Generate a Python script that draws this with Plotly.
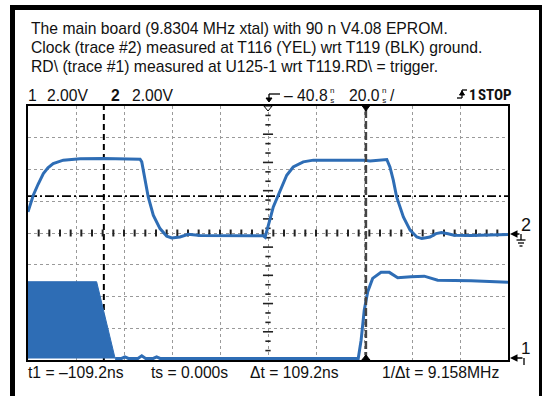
import plotly.graph_objects as go

# ---------------- data (time in ns, voltage in V) ----------------
# Channel 2: clock (ground at screen centre)
clock_t = [-140.8, -138.6, -136.6, -134.4, -132.5, -130.3, -126.1, -119.1, -109.5, -102.5, -94.1,
           -93.4, -92.0, -90.7, -88.6, -85.8, -83.0, -80.9, -77.5, -74.0, -69.1, -56.6, -42.8,
           -42.0, -40.7, -39.5, -38.6, -35.8, -33.0, -30.3, -26.1, -21.9, -10.8, -1.1, 1.7,
           5.9, 8.7, 10.0, 11.4, 12.8, 15.6, 18.4, 21.2, 23.3, 26.7, 29.2, 31.5, 34.2, 36.7,
           43.8, 51.7, 59.2]
clock_v = [1.33, 2.38, 3.07, 3.75, 4.11, 4.38, 4.59, 4.67, 4.69, 4.68, 4.65,
           4.48, 3.33, 2.27, 1.12, 0.28, -0.20, -0.31, -0.25, -0.08, -0.16, -0.15, -0.17,
           -0.26, 0.55, 1.12, 1.64, 2.70, 3.64, 4.16, 4.48, 4.59, 4.59, 4.59, 4.54,
           4.60, 4.63, 4.16, 3.33, 2.27, 1.01, 0.18, -0.25, -0.35, -0.25, -0.04, 0.03, -0.05, -0.14,
           -0.15, -0.13, -0.09]

# Channel 1: RD\ (ground near bottom of screen)
rd_burst_t = [-140.8, -140.8, -112.2, -104.5]
rd_burst_v = [0.0, 4.83, 4.83, 0.0]
rd_t = [-104.5, -101.8, -100.4, -99.0, -95.0, -93.4, -91.8, -88.6, -87.2, -85.8, -3.2, -2.0,
        -0.7, 0.75, 2.8, 6.3, 9.75, 13.25, 18.8, 24.3, 29.9, 43.8, 59.2]
rd_v = [0.0, 0.0, 0.1, 0.0, 0.0, 0.16, 0.0, 0.0, 0.1, 0.0, 0.0, 1.15,
        3.04, 4.20, 5.04, 5.42, 5.42, 5.08, 5.14, 5.18, 4.93, 4.89, 4.79]
rd_offset = -7.9          # on-screen ground position of channel 1 (V, on the 2 V/div scale)

# scope settings / readouts
time_center = -40.8       # ns
time_per_div = 20.0       # ns/div
volts_per_div = 2.0
trigger_level = 2.32      # V
cursor_t1 = -109.2        # ns
cursor_t2 = 0.0           # ns

title_lines = ["The main board (9.8304 MHz xtal) with 90 n V4.08 EPROM.",
               "Clock (trace #2) measured at T116 (YEL) wrt T119 (BLK) ground.",
               "RD\\ (trace #1) measured at U125-1 wrt T119.RD\\ = trigger."]
readouts = ["t1 = \u2013109.2ns", "ts = 0.000s", "\u0394t = 109.2ns", "1/\u0394t = 9.158MHz"]

# ---------------- figure ----------------
BLUE = "#2e6db5"
FONT = "Liberation Sans, Arial, sans-serif"
t_left = time_center - 5 * time_per_div
t_right = time_center + 5 * time_per_div
v_lo, v_hi = -4 * volts_per_div, 4 * volts_per_div

W, H = 542, 396
L, R, T, B = 28, 34, 106, 36
PW, PH = W - L - R, H - T - B


def px(p):
    return (p - L) / PW


def py(p):
    return (H - B - p) / PH


fig = go.Figure()
fig.add_trace(go.Scatter(x=rd_burst_t, y=[v + rd_offset for v in rd_burst_v], mode="lines",
                         fill="toself", fillcolor=BLUE, line=dict(color=BLUE, width=1),
                         hoverinfo="skip"))
fig.add_trace(go.Scatter(x=rd_t, y=[v + rd_offset for v in rd_v], mode="lines",
                         line=dict(color=BLUE, width=3), hoverinfo="skip"))
fig.add_trace(go.Scatter(x=clock_t, y=clock_v, mode="lines",
                         line=dict(color=BLUE, width=3), hoverinfo="skip"))

shapes = []
# centre-axis minor ticks (horizontal axis)
for k in range(1, 45):
    xt = t_left + k * (t_right - t_left) / 45
    shapes.append(dict(type="line", xref="x", yref="y", x0=xt, x1=xt, y0=-0.22, y1=0.22,
                       line=dict(color="#222", width=2), layer="between"))
# centre-axis minor ticks (vertical axis)
for k in range(1, 27):
    yt = v_lo + k * (v_hi - v_lo) / 27
    hw = 2.1 if k % 3 == 0 else 1.1
    shapes.append(dict(type="line", xref="x", yref="y", x0=time_center - hw, x1=time_center + hw,
                       y0=yt, y1=yt, line=dict(color="#222", width=1.6), layer="between"))
# trigger level (dash-dot)
shapes.append(dict(type="line", xref="x", yref="y", x0=t_left, x1=t_right, y0=trigger_level,
                   y1=trigger_level, line=dict(color="black", width=1.6, dash="9px,3px,2px,3px"),
                   layer="between"))
# cursors
shapes.append(dict(type="line", xref="x", yref="paper", x0=cursor_t1, x1=cursor_t1, y0=0, y1=1,
                   line=dict(color="black", width=2, dash="6px,4px"), layer="between"))
shapes.append(dict(type="line", xref="x", yref="paper", x0=cursor_t2, x1=cursor_t2, y0=0, y1=1,
                   line=dict(color="#444", width=2.5, dash="8px,3px"), layer="above"))


def tri(xc, ytop, ybot, hw, fill, line="black"):
    return dict(type="path", xref="x", yref="paper",
                path=f"M {xc - hw} {py(ytop)} L {xc + hw} {py(ytop)} L {xc} {py(ybot)} Z",
                fillcolor=fill, line=dict(color=line, width=1), layer="above")


shapes.append(tri(time_center, 106, 111, 1.7, "white"))
shapes.append(tri(cursor_t2, 106, 111, 1.5, "black"))
shapes.append(tri(cursor_t2, 360, 355, 1.7, "black"))


def pline(x0, y0, x1, y1, w=1.3, color="black"):
    return dict(type="line", xref="paper", yref="paper", x0=px(x0), y0=py(y0), x1=px(x1), y1=py(y1),
                line=dict(color=color, width=w), layer="above")


def prect(x0, y0, x1, y1):
    return dict(type="rect", xref="paper", yref="paper", x0=px(x0), y0=py(y0), x1=px(x1), y1=py(y1),
                fillcolor="black", line=dict(width=0), layer="above")


# outer frame
shapes += [prect(10, 5, 15, 400), prect(10, 5, 542, 10), prect(539, 5, 542, 400)]
# delay symbol
shapes += [pline(269, 94, 280, 94), pline(269, 94, 269, 99)]
shapes.append(dict(type="path", xref="paper", yref="paper",
                   path=f"M {px(266)} {py(98)} L {px(272)} {py(98)} L {px(269)} {py(102)} Z",
                   fillcolor="black", line=dict(color="black", width=1), layer="above"))
# trigger slope symbol
shapes += [pline(457, 98, 462, 98), pline(462, 98, 462, 90), pline(462, 90, 467, 90)]
shapes.append(dict(type="path", xref="paper", yref="paper",
                   path=f"M {px(459.5)} {py(95)} L {px(464.5)} {py(95)} L {px(462)} {py(91)} Z",
                   fillcolor="black", line=dict(color="black", width=1), layer="above"))
# ground symbol for ch2
shapes += [pline(521, 234, 521, 240), pline(516.5, 240, 525.5, 240), pline(518, 243, 524, 243),
           pline(519.5, 246, 522.5, 246)]
# ch1 marker tail
shapes += [pline(524, 358, 524, 365)]

ann = []


def text(x, y, s, size=15.7, anchor="left", bold=False, family=FONT):
    ann.append(dict(x=px(x), y=py(y), xref="paper", yref="paper", text=f"<b>{s}</b>" if bold else s,
                    showarrow=False, xanchor=anchor, yanchor="middle",
                    font=dict(family=family, size=size, color="#111")))


for i, line in enumerate(title_lines):
    text(28.5, 28.3 + i * 19.2, line)
text(26, 95, "1")
text(45, 95, "2.00V")
text(108.5, 95, "2", bold=True)
text(130, 95, "2.00V")
text(282, 95, "\u2013 40.8")
text(331.5, 95.5, "n<br>s", size=8, anchor="center")
text(347, 95, "20.0")
text(384, 95.5, "n<br>s", size=8, anchor="center")
text(388, 95, "/")
text(472.5, 95, "1", size=15, anchor="center", bold=True,
     family="Liberation Sans Narrow, Arial Narrow, Roboto Condensed, Liberation Sans, sans-serif")
text(514, 95, "STOP", size=15, anchor="right", bold=True,
     family="Liberation Sans Narrow, Arial Narrow, Roboto Condensed, Liberation Sans, sans-serif")
text(525.5, 225, "2", size=18, anchor="center")
text(525, 348.5, "1", size=17, anchor="center")
text(25.5, 372, readouts[0])
text(148.5, 372, readouts[1])
text(247.5, 372, readouts[2])
text(379.5, 372, readouts[3])

# channel arrows
for yy, tail in [(234, 521), (358, 524)]:
    ann.append(dict(x=px(510), y=py(yy), xref="paper", yref="paper", ax=tail - 510, ay=0,
                    axref="pixel", ayref="pixel", text="", showarrow=True, arrowhead=2,
                    arrowsize=1, arrowwidth=1.5, arrowcolor="black"))

fig.update_layout(
    width=W, height=H, margin=dict(l=L, r=R, t=T, b=B, pad=0),
    paper_bgcolor="white", plot_bgcolor="white", showlegend=False,
    xaxis=dict(range=[t_left, t_right], tick0=t_left, dtick=time_per_div, showgrid=True,
               gridcolor="#9a9a9a", griddash="dot", gridwidth=1, zeroline=False,
               showticklabels=False, ticks="", showline=True, mirror=True, linecolor="black",
               linewidth=2, fixedrange=True),
    yaxis=dict(range=[v_lo, v_hi], tick0=v_lo, dtick=volts_per_div, showgrid=True,
               gridcolor="#9a9a9a", griddash="dot", gridwidth=1, zeroline=False,
               showticklabels=False, ticks="", showline=True, mirror=True, linecolor="black",
               linewidth=2, fixedrange=True),
    shapes=shapes, annotations=ann,
)

fig.write_html("out.html", config={"displayModeBar": False},
               post_script="document.body.style.margin='0';document.body.style.overflow='hidden';")
